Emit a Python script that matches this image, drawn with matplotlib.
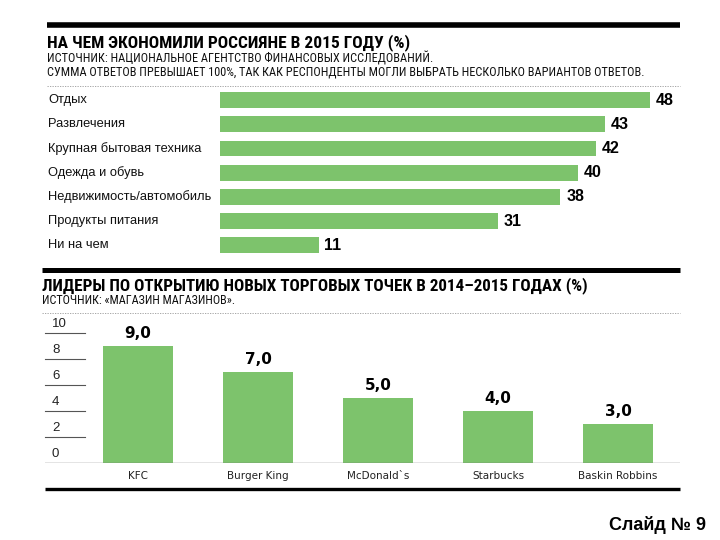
import matplotlib
matplotlib.use("Agg")
import matplotlib.pyplot as plt
import matplotlib.transforms as mtransforms
from matplotlib.lines import Line2D
from matplotlib import font_manager as fm

# ---- data ----
top_categories = ["Отдых", "Развлечения", "Крупная бытовая техника", "Одежда и обувь",
                  "Недвижимость/автомобиль", "Продукты питания", "Ни на чем"]
top_values = [48, 43, 42, 40, 38, 31, 11]

bottom_categories = ["KFC", "Burger King", "McDonald`s", "Starbucks", "Baskin Robbins"]
bottom_values = [9.0, 7.0, 5.0, 4.0, 3.0]
bottom_ticks = [0, 2, 4, 6, 8, 10]

title1 = "НА ЧЕМ ЭКОНОМИЛИ РОССИЯНЕ В 2015 ГОДУ (%)"
sub1a = "ИСТОЧНИК: НАЦИОНАЛЬНОЕ АГЕНТСТВО ФИНАНСОВЫХ ИССЛЕДОВАНИЙ."
sub1b = "СУММА ОТВЕТОВ ПРЕВЫШАЕТ 100%, ТАК КАК РЕСПОНДЕНТЫ МОГЛИ ВЫБРАТЬ НЕСКОЛЬКО ВАРИАНТОВ ОТВЕТОВ."
title2 = "ЛИДЕРЫ ПО ОТКРЫТИЮ НОВЫХ ТОРГОВЫХ ТОЧЕК В 2014–2015 ГОДАХ (%)"
sub2 = "ИСТОЧНИК: «МАГАЗИН МАГАЗИНОВ»."
slide = "Слайд № 9"

GREEN = "#7DC36C"
W, H = 720, 540

def fx(px):
    return px / W

def fy(py):
    return 1 - py / H

fig = plt.figure(figsize=(7.2, 5.4), dpi=100)
fig.patch.set_facecolor("white")

installed = {f.name for f in fm.fontManager.ttflist}
if "Roboto Condensed" in installed:
    narrow = ["Roboto Condensed", "DejaVu Sans"]
else:
    narrow = ["DejaVu Sans"]
sans = ["Liberation Sans", "DejaVu Sans"]
NK = dict(family=narrow, fontstretch="condensed")

def hline(y, x0, x1, lw, color, ls="-"):
    fig.add_artist(Line2D([fx(x0), fx(x1)], [fy(y), fy(y)], transform=fig.transFigure,
                          lw=lw, color=color, ls=ls, solid_capstyle="butt"))

# ---- header 1 ----
hline(24.5, 47, 680, 4.0, "black")
fig.text(fx(47), fy(43), title1, fontweight="bold", fontsize=12.5, va="center", ha="left", **NK)
fig.text(fx(47), fy(58.5), sub1a, fontsize=8.8, va="center", ha="left", color="#111111", **NK)
fig.text(fx(47), fy(72.5), sub1b, fontsize=8.8, va="center", ha="left", color="#111111", **NK)
hline(86, 47, 680, 0.6, "#999999", ls=(0, (1.5, 1.5)))

# ---- top bar chart ----
row = 24.2
ax1 = fig.add_axes([fx(220), fy(88 + 7 * row), fx(680) - fx(220), (7 * row) / H])
ax1.set_xlim(0, 460 / 8.96)
ax1.set_ylim(6.5, -0.5)
ypos = list(range(len(top_categories)))
ax1.barh(ypos, top_values, height=0.66, color=GREEN, edgecolor="none")
for y, v in zip(ypos, top_values):
    ax1.text(v + 0.65, y, str(v), fontweight="bold", fontsize=11.5, family=sans, va="center", ha="left")
blend = mtransforms.blended_transform_factory(fig.transFigure, ax1.transData)
for y, c in zip(ypos, top_categories):
    ax1.text(fx(48), y, c, transform=blend, fontsize=9.3, family=sans, va="center", ha="left",
             clip_on=False, color="#111111")
ax1.axis("off")

# ---- header 2 ----
hline(270, 42, 680, 3.6, "black")
fig.text(fx(42), fy(286), title2, fontweight="bold", fontsize=12.3, va="center", ha="left", **NK)
fig.text(fx(42), fy(300), sub2, fontsize=8.7, va="center", ha="left", color="#111111", **NK)
hline(313, 42, 680, 0.6, "#999999", ls=(0, (1.5, 1.5)))

# ---- bottom bar chart ----
x_left, x_right = 45, 680
y0_px, y10_px = 463, 333
ax2 = fig.add_axes([fx(x_left), fy(y0_px), fx(x_right) - fx(x_left), (y0_px - y10_px) / H])
ax2.set_ylim(0, 10)
slot = 120.0
xmin = -(138 - x_left) / slot
xmax = xmin + (x_right - x_left) / slot
ax2.set_xlim(xmin, xmax)
xpos = list(range(len(bottom_categories)))
ax2.bar(xpos, bottom_values, width=70 / slot, color=GREEN, edgecolor="none")
for x, v in zip(xpos, bottom_values):
    ax2.text(x, v + 0.35, f"{v:.1f}".replace(".", ","), fontweight="bold", fontsize=11,
             family=["DejaVu Sans"], va="bottom", ha="center")
for x, c in zip(xpos, bottom_categories):
    ax2.text(x, -0.6, c, fontsize=7.5, family=["DejaVu Sans"], va="top", ha="center", color="#222222")
tick_end = (85 - x_left) / slot + xmin
for t in bottom_ticks:
    if t > 0:
        ax2.plot([xmin, tick_end], [t, t], color="#555555", lw=0.8, clip_on=False)
    ax2.text(xmin + (52 - x_left) / slot, t + 0.2, str(t), fontsize=9.5, family=sans,
             va="bottom", ha="left", color="#222222")
ax2.axhline(0, color="#777777", lw=1.0)
ax2.axis("off")

hline(488.5, 45, 680, 2.4, "black")

fig.text(fx(706), fy(525), slide, family=sans, fontweight="bold", fontsize=13, va="center", ha="right")

fig.savefig("out.png", dpi=100, facecolor="white")
